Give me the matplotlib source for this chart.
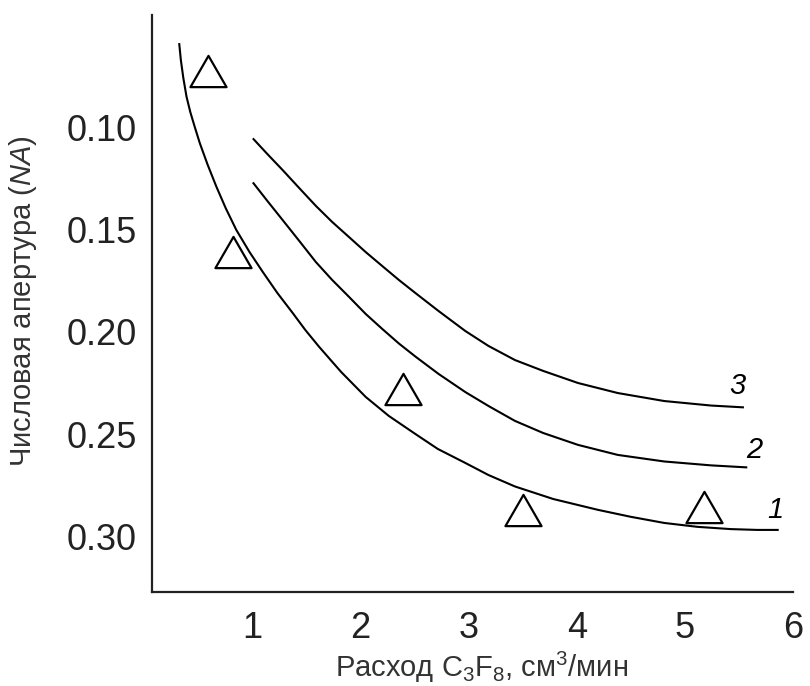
import matplotlib
matplotlib.use("Agg")
from matplotlib import pyplot as plt
from matplotlib.path import Path

plt.rcParams['font.family'] = ['Liberation Sans', 'DejaVu Sans']
plt.rcParams['mathtext.fontset'] = 'custom'
plt.rcParams['mathtext.rm'] = 'Liberation Sans'
plt.rcParams['mathtext.it'] = 'Liberation Sans:italic'

# curve 1
x1 = [0.3214, 0.337, 0.360, 0.3895, 0.4245, 0.4659, 0.512, 0.5856, 0.6657, 0.7514, 0.8499,
      0.9724, 1.0948, 1.2302, 1.3711, 1.488, 1.617, 1.8195, 2.047, 2.2615, 2.507, 2.7145,
      2.968, 3.1823, 3.428, 3.781, 4.195, 4.499, 4.809, 5.116, 5.423, 5.669, 5.868]
y1 = [0.0590, 0.0673, 0.0761, 0.0852, 0.0927, 0.1000, 0.1078, 0.1185, 0.1291, 0.1395, 0.1502,
      0.1610, 0.1707, 0.1810, 0.1907, 0.1990, 0.2073, 0.2195, 0.2317, 0.2410, 0.2498, 0.2571,
      0.2639, 0.2698, 0.2754, 0.2815, 0.2868, 0.2902, 0.2932, 0.2951, 0.2962, 0.2966, 0.2966]
# curve 2
x2 = [1.0028, 1.138, 1.279, 1.4328, 1.5866, 1.7367, 1.8932, 2.047, 2.1998, 2.3536, 2.507,
      2.7219, 2.968, 3.1823, 3.428, 3.6888, 4.011, 4.3794, 4.809, 5.2413, 5.577]
y2 = [0.1270, 0.1361, 0.1454, 0.1556, 0.1659, 0.1746, 0.1829, 0.1912, 0.1985, 0.2056, 0.2120,
      0.2205, 0.2293, 0.2361, 0.2434, 0.2493, 0.2551, 0.2600, 0.2632, 0.2651, 0.2661]
# curve 3
x3 = [1.0028, 1.138, 1.279, 1.4328, 1.5866, 1.7367, 1.8932, 2.047, 2.1998, 2.3536, 2.507,
      2.7219, 2.968, 3.1823, 3.428, 3.6888, 4.011, 4.3794, 4.809, 5.2413, 5.546]
y3 = [0.1055, 0.1132, 0.1210, 0.1298, 0.1385, 0.1463, 0.1537, 0.1610, 0.1678, 0.1746, 0.1810,
      0.1898, 0.1995, 0.2068, 0.2137, 0.2190, 0.2249, 0.2298, 0.2337, 0.2359, 0.2368]
# experimental points
xp = [0.589, 0.819, 2.395, 3.505, 5.18]
yp = [0.0724, 0.161, 0.2279, 0.2869, 0.2852]

curve_names = ['1', '2', '3']
name_pos = [(5.834, 0.2869), (5.641, 0.2576), (5.484, 0.2264)]

xticks = [1, 2, 3, 4, 5, 6]
yticks = [0.10, 0.15, 0.20, 0.25, 0.30]
ytick_labels = ['0.10', '0.15', '0.20', '0.25', '0.30']

tri = Path([(-1, -0.866), (1, -0.866), (0, 0.866), (-1, -0.866)],
           [Path.MOVETO, Path.LINETO, Path.LINETO, Path.CLOSEPOLY])

fig = plt.figure(figsize=(8.1, 6.86), dpi=100)
ax = fig.add_axes([152 / 810, 1 - 592 / 686, (793 - 152) / 810, (592 - 15) / 686])

for xs, ys in [(x1, y1), (x2, y2), (x3, y3)]:
    ax.plot(xs, ys, color='black', lw=1.5, solid_capstyle='butt', solid_joinstyle='round')
ax.plot(xp, yp, linestyle='none', marker=tri, ms=26, mfc='white', mec='black', mew=1.6)

for name, (tx, ty) in zip(curve_names, name_pos):
    ax.text(tx, ty, name, fontsize=21, style='italic', ha='center', va='center')

ax.set_xlim(0.07, 5.972)
ax.set_ylim(0.3269, 0.0453)
ax.set_xticks(xticks)
ax.set_yticks(yticks)
ax.set_yticklabels(ytick_labels)
ax.tick_params(length=0, labelsize=26, colors='#222222')
ax.tick_params(axis='x', pad=14)
ax.tick_params(axis='y', pad=11)
for s in ['top', 'right']:
    ax.spines[s].set_visible(False)
for s in ['left', 'bottom']:
    ax.spines[s].set_linewidth(1.6)
    ax.spines[s].set_color('#222222')

fig.text(482 / 810, 1 - 667 / 686, 'Расход C$_{3}$F$_{8}$, см$^{3}$/мин', fontsize=21,
         ha='center', va='center', color='#333333')
fig.text(23 / 810, 1 - 301 / 686, 'Числовая апертура ($\\mathit{NA}$)', fontsize=21,
         ha='center', va='center', rotation=90, color='#333333')

plt.savefig('out.png', dpi=100)
